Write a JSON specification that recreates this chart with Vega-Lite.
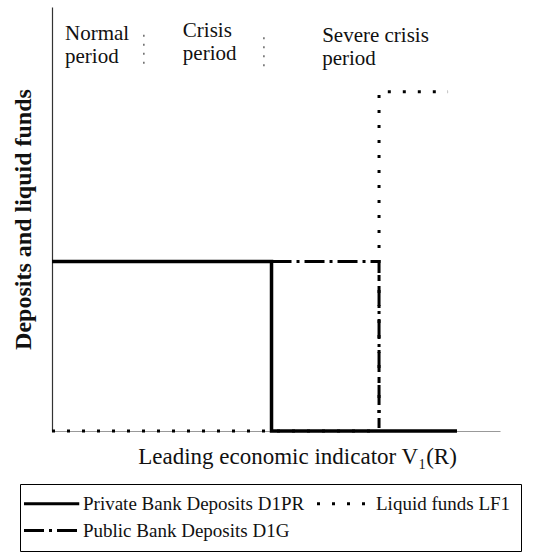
{
  "$schema": "https://vega.github.io/schema/vega-lite/v6.json",
  "width": 448,
  "height": 424,
  "autosize": {"type": "none"},
  "padding": {"left": 52, "top": 7, "right": 35, "bottom": 125},
  "background": "white",
  "config": {
    "view": {"stroke": null},
    "font": "Liberation Serif",
    "axisX": {
      "domain": true, "domainColor": "#999", "domainWidth": 1,
      "ticks": false, "labels": false, "grid": false,
      "titleFont": "Liberation Serif", "titleFontSize": 23, "titleFontWeight": "normal",
      "titleColor": "#111", "titleX": 245, "titleY": 32, "titleBaseline": "alphabetic", "titleAlign": "center"
    },
    "axisY": {
      "domain": true, "domainColor": "#333", "domainWidth": 1.2,
      "ticks": false, "labels": false, "grid": false,
      "titleFont": "Liberation Serif", "titleFontSize": 24, "titleFontWeight": "bold",
      "titleColor": "#111", "titlePadding": 17
    }
  },
  "datasets": {
    "lines": [
      {"series": "Liquid funds LF1", "x": 0, "y": 0, "ord": 1},
      {"series": "Liquid funds LF1", "x": 73, "y": 0, "ord": 2},
      {"series": "Liquid funds LF1", "x": 73, "y": 80, "ord": 3},
      {"series": "Liquid funds LF1", "x": 88.4, "y": 80, "ord": 4},
      {"series": "Public Bank Deposits D1G", "x": 49, "y": 40, "ord": 1},
      {"series": "Public Bank Deposits D1G", "x": 73, "y": 40, "ord": 2},
      {"series": "Public Bank Deposits D1G", "x": 73, "y": 1.4, "ord": 3},
      {"series": "Private Bank Deposits D1PR", "x": 0, "y": 40, "ord": 1},
      {"series": "Private Bank Deposits D1PR", "x": 49, "y": 40, "ord": 2},
      {"series": "Private Bank Deposits D1PR", "x": 49, "y": 0, "ord": 3},
      {"series": "Private Bank Deposits D1PR", "x": 90.4, "y": 0, "ord": 4}
    ],
    "seps": [
      {"x": 20.5, "y": 86.6, "y2": 94.8},
      {"x": 47.3, "y": 86.0, "y2": 94.5}
    ],
    "labels": [
      {"x": 2.9, "y": 92.2, "label": "Normal\nperiod"},
      {"x": 29.2, "y": 92.9, "label": "Crisis\nperiod"},
      {"x": 60.3, "y": 91.7, "label": "Severe crisis\nperiod"}
    ]
  },
  "layer": [
    {
      "data": {"name": "seps"},
      "mark": {"type": "rule", "color": "#666", "strokeWidth": 1.5, "strokeDash": [2, 7]},
      "encoding": {
        "x": {"field": "x", "type": "quantitative", "scale": {"domain": [0, 100]}, "title": "Leading economic indicator V₁(R)"},
        "y": {"field": "y", "type": "quantitative", "scale": {"domain": [0, 100]}, "title": "Deposits and liquid funds"},
        "y2": {"field": "y2"}
      }
    },
    {
      "data": {"name": "labels"},
      "mark": {"type": "text", "align": "left", "baseline": "alphabetic", "fontSize": 21, "lineBreak": "\n", "lineHeight": 23, "color": "#111", "font": "Liberation Serif"},
      "encoding": {
        "x": {"field": "x", "type": "quantitative", "scale": {"domain": [0, 100]}, "title": "Leading economic indicator V₁(R)"},
        "y": {"field": "y", "type": "quantitative", "scale": {"domain": [0, 100]}, "title": "Deposits and liquid funds"},
        "text": {"field": "label"}
      }
    },
    {
      "data": {"name": "lines"},
      "transform": [{"filter": "datum.series === 'Liquid funds LF1'"}],
      "mark": {"type": "line", "color": "black", "strokeWidth": 3, "strokeCap": "butt", "strokeJoin": "miter"},
      "encoding": {
        "x": {"field": "x", "type": "quantitative", "scale": {"domain": [0, 100]}, "title": "Leading economic indicator V₁(R)"},
        "y": {"field": "y", "type": "quantitative", "scale": {"domain": [0, 100]}, "title": "Deposits and liquid funds"},
        "order": {"field": "ord"},
        "strokeDash": {
          "field": "series", "type": "nominal",
          "scale": {"domain": ["Private Bank Deposits D1PR", "Liquid funds LF1", "Public Bank Deposits D1G"], "range": [[1, 0], [3, 12], [20, 5, 3, 5]]},
          "legend": {
            "title": null, "orient": "none", "legendX": -32, "legendY": 477,
            "columns": 2, "direction": "horizontal",
            "symbolType": "M-1,0L7.5,0", "symbolSize": 169, "symbolStrokeWidth": 3, "symbolStrokeColor": "black", "symbolOffset": -9,
            "labelFont": "Liberation Serif", "labelFontSize": 19, "labelLimit": 400, "labelOffset": 43, "labelColor": "#111",
            "columnPadding": 6, "rowPadding": 7, "padding": 10, "strokeColor": "black"
          }
        }
      }
    },
    {
      "data": {"name": "lines"},
      "transform": [{"filter": "datum.series === 'Public Bank Deposits D1G'"}],
      "mark": {"type": "line", "color": "black", "strokeWidth": 3, "strokeCap": "butt", "strokeJoin": "miter"},
      "encoding": {
        "x": {"field": "x", "type": "quantitative", "scale": {"domain": [0, 100]}, "title": "Leading economic indicator V₁(R)"},
        "y": {"field": "y", "type": "quantitative", "scale": {"domain": [0, 100]}, "title": "Deposits and liquid funds"},
        "order": {"field": "ord"},
        "strokeDash": {"field": "series", "type": "nominal"}
      }
    },
    {
      "data": {"name": "lines"},
      "transform": [{"filter": "datum.series === 'Private Bank Deposits D1PR'"}],
      "mark": {"type": "line", "color": "black", "strokeWidth": 3.5, "strokeCap": "butt", "strokeJoin": "miter"},
      "encoding": {
        "x": {"field": "x", "type": "quantitative", "scale": {"domain": [0, 100]}, "title": "Leading economic indicator V₁(R)"},
        "y": {"field": "y", "type": "quantitative", "scale": {"domain": [0, 100]}, "title": "Deposits and liquid funds"},
        "order": {"field": "ord"},
        "strokeDash": {"field": "series", "type": "nominal"}
      }
    }
  ]
}
